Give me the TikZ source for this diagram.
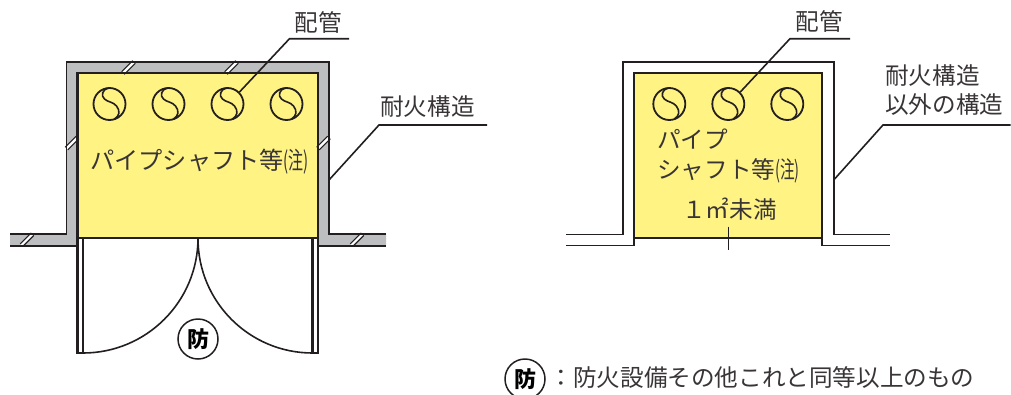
\documentclass[tikz,border=0pt]{standalone}
\usepackage{fontspec}
\usepackage{graphicx}
\setmainfont{Noto Sans CJK JP}
\usetikzlibrary{positioning}
\definecolor{shaftc}{HTML}{FFF383}
\definecolor{wallc}{HTML}{BCBEC0}
\definecolor{inkc}{HTML}{231F20}
\newcommand{\chunote}{\scalebox{.62}[1]{(注)}}
\begin{document}
\begin{tikzpicture}[
    x=1pt, y=-1pt,
    label/.style={inner sep=0, text=inkc!90, font=\fontsize{23.6}{26}\selectfont},
    pipe/.style={circle, draw=inkc, line width=1.8pt, minimum size=32pt, inner sep=0},
    fireseal/.style={circle, draw=inkc, line width=1.5pt, inner sep=0, minimum size=40pt, font=\fontsize{22}{26}\selectfont\bfseries},
    outerline/.style={draw=inkc, line width=1.6pt},
    innerline/.style={draw=inkc, line width=2.1pt},
    leader/.style={draw=inkc, line width=1.6pt}
  ]
  \useasboundingbox (0,0) rectangle (1011,394);

  % left shaft
  \fill[wallc] (10,233.7) -- (66.5,233.7) -- (66.5,62) -- (329,62) -- (329,233.7) -- (386,233.7)
    -- (386,245.7) -- (318,245.7) -- (318,73) -- (77.5,73) -- (77.5,245.7) -- (10,245.7) -- cycle;
  \fill[shaftc] (77.5,73) rectangle (318,238);
  \fill[shaftc] (633.7,73) rectangle (822,237.7);
  \foreach \hx/\hy in {128.5/67.5, 231.5/67.5, 72/143, 323.5/143, 27/239.7, 357/239.7} {
    \fill[white, rotate around={45:(\hx,\hy)}] (\hx-7.8,\hy-1.8) rectangle (\hx+7.8,\hy+1.8);
    \draw[inkc, line width=1.1pt, rotate around={45:(\hx,\hy)}] (\hx-7.8,\hy-1.8) -- (\hx+7.8,\hy-1.8)
      (\hx-7.8,\hy+1.8) -- (\hx+7.8,\hy+1.8);
  }
  \draw[outerline] (10,233.7) -- (66.5,233.7) -- (66.5,62) -- (329,62) -- (329,233.7) -- (386,233.7);
  \draw[outerline] (10,245.7) -- (77.5,245.7) (318,245.7) -- (386,245.7);
  \draw[innerline] (77.5,238) -- (77.5,73) -- (318,73) -- (318,238) -- cycle;

  % doors
  \draw[innerline] (77.5,238) -- (77.5,353) -- (83,353) -- (83,238);
  \draw[innerline] (318,238) -- (318,353) -- (312.5,353) -- (312.5,238);
  \draw[outerline] (83,353) arc[start angle=90, end angle=0, radius=115];
  \draw[outerline] (312.5,353) arc[start angle=90, end angle=180, radius=114.5];
  \draw[outerline] (198,238) -- (198,252);
  \node[fireseal] (doormark) at (198,339) {防};

  \foreach \n/\x in {la/109.5, lb/168.5, lc/227.5, ld/286.5, ra/669.3, rb/728.3, rc/787.3} {
    \node[pipe] (\n) at (\x,104) {};
    \draw[inkc, line width=1.6pt, shift={(\n.center)}] (-1,-16) .. controls (-7,-15) and (-9,-8) .. (-5,-5)
      .. controls (-2,-2) and (4,-2) .. (7,2) .. controls (11,7) and (10,12) .. (5,15);
  }

  \node[label] (pipesl) at (318,22) {配管};
  \coordinate (pipesla) at (349,38.7);
  \coordinate (pipeslb) at (289.5,38.7);
  \draw[leader] (pipesla) -- (pipeslb) -- (lc.45);
  \node[label, anchor=west, font=\fontsize{24.2}{26}\selectfont] (shaftl) at (90,162) {パイプシャフト等\chunote};
  \node[label, anchor=west] (fireprf) at (380,107) {耐火構造};
  \coordinate (fireprfa) at (487,125);
  \coordinate (fireprfb) at (379,125);
  \coordinate (fireprfc) at (329,180);
  \draw[leader] (fireprfa) -- (fireprfb) -- (fireprfc);

  % right shaft
  \draw[outerline] (566,234.3) -- (622.7,234.3) -- (622.7,62) -- (833.7,62) -- (833.7,234.3) -- (890,234.3);
  \draw[outerline] (566,245.3) -- (633.7,245.3) -- (633.7,237.7);
  \draw[outerline] (822,237.7) -- (822,245.3) -- (890,245.3);
  \draw[innerline] (633.7,73) rectangle (822,237.7);
  \coordinate (ticka) at (728.3,226.7);
  \coordinate (tickb) at (728.3,250);
  \draw[outerline] (ticka) -- (tickb);

  \node[label] (pipesr) at (819,21) {配管};
  \coordinate (pipesra) at (850,38.7);
  \coordinate (pipesrb) at (790,38.7);
  \draw[leader] (pipesra) -- (pipesrb) -- (rb.45);
  \node[label, anchor=west] (shaftr) at (657,139) {パイプ};
  \node[label, anchor=west] (shaftrb) at (657,171) {シャフト等\chunote};
  \node[label, anchor=west] (areal) at (682,209) {１㎡未満};
  \node[label, anchor=west] (notfire) at (885,76) {耐火構造};
  \node[label, anchor=west] (notfireb) at (885,105) {以外の構造};
  \coordinate (notfirea) at (1010.7,125);
  \coordinate (notfirec) at (883,125);
  \coordinate (notfired) at (833.7,180);
  \draw[leader] (notfirea) -- (notfirec) -- (notfired);

  % legend
  \node[fireseal] (legendmark) at (525,379) {防};
  \node[label, anchor=west] (legend) at (549.5,378) {：防火設備その他これと同等以上のもの};
\end{tikzpicture}
\end{document}
